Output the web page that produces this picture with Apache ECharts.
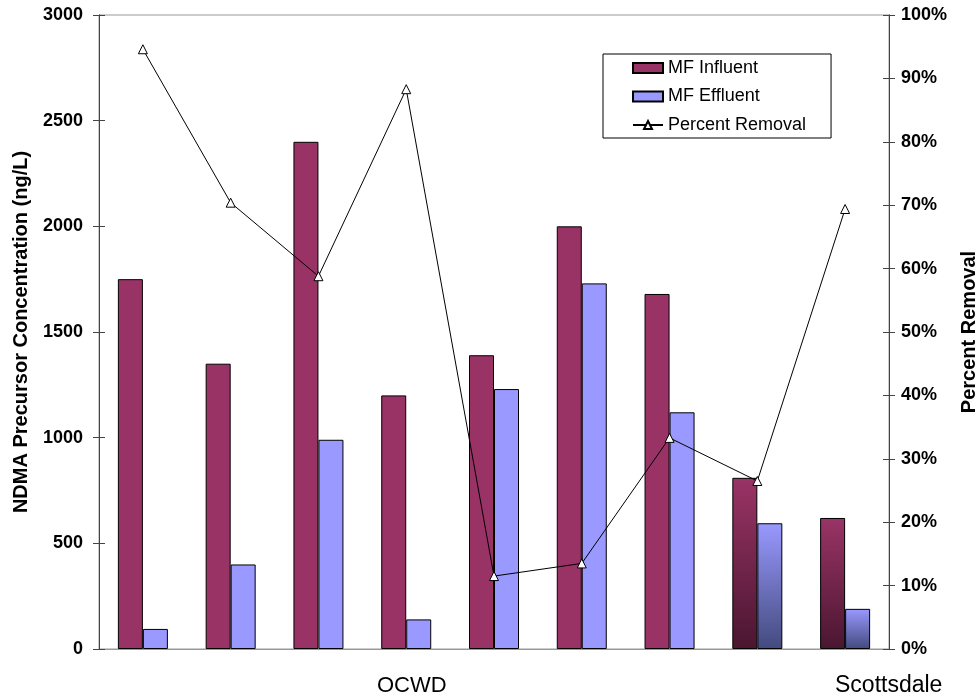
<!DOCTYPE html>
<html>
<head>
<meta charset="utf-8">
<script src="https://cdn.jsdelivr.net/npm/echarts@6/dist/echarts.min.js"></script>
<style>html,body{margin:0;padding:0;background:#fff}#c{width:980px;height:700px}</style>
</head>
<body>
<div id="c"></div>
<script>
var categories = ['1','2','3','4','5','6','7','8','9'];
var influent = [1750, 1350, 2400, 1200, 1390, 2000, 1680, 810, 620];
var effluent = [95, 400, 990, 140, 1230, 1730, 1120, 595, 190];
var percentRemoval = [94.6, 70.4, 58.8, 88.3, 11.5, 13.5, 33.3, 26.5, 69.4];
var gradientFrom = 7; // categories from this index use shaded bars
var groupLabels = ['OCWD', 'Scottsdale'];

var FONT = 'Liberation Sans, Arial, sans-serif';
function grad(top, bottom) {
  return new echarts.graphic.LinearGradient(0, 0, 0, 1, [
    {offset: 0, color: top}, {offset: 1, color: bottom}
  ]);
}
function barData(vals, flat, top, bottom) {
  return vals.map(function (v, i) {
    if (i >= gradientFrom) return {value: v, itemStyle: {color: grad(top, bottom)}};
    return {value: v, itemStyle: {color: flat}};
  });
}
var leftAxisBase = {
  type: 'value', min: 0, max: 3000, interval: 500, position: 'left',
  axisLine: {show: true, lineStyle: {color: '#444', width: 1}},
  splitLine: {show: false}
};
var rightAxisBase = {
  type: 'value', min: 0, max: 100, interval: 10, position: 'right',
  axisLine: {show: true, lineStyle: {color: '#444', width: 1}},
  splitLine: {show: false}
};
var chart = echarts.init(document.getElementById('c'));
chart.setOption({
  animation: false,
  backgroundColor: '#fff',
  grid: {left: 99, right: 91, top: 15, bottom: 51, containLabel: false, outerBoundsMode: 'none',
    show: true, borderColor: '#999', borderWidth: 1, backgroundColor: 'transparent'},
  legend: {
    orient: 'vertical', left: 603, top: 54,
    backgroundColor: '#fff', borderColor: '#000', borderWidth: 1,
    padding: [4, 25, 3, 29], itemGap: 8.5, itemWidth: 30, itemHeight: 10,
    textStyle: {fontFamily: FONT, fontSize: 18, color: '#000', lineHeight: 20, padding: [0, 0, 0, 0]},
    data: [
      {name: 'MF Influent', icon: 'rect'},
      {name: 'MF Effluent', icon: 'rect'},
      {name: 'Percent Removal'}
    ]
  },
  xAxis: {
    type: 'category', data: categories,
    axisLine: {show: true, lineStyle: {color: '#999'}},
    axisTick: {show: false}, axisLabel: {show: false}
  },
  yAxis: [
    Object.assign({}, leftAxisBase, {
      name: 'NDMA Precursor Concentration (ng/L)', nameLocation: 'middle', nameGap: 68,
      nameTextStyle: {fontFamily: FONT, fontSize: 20, fontWeight: 'bold', color: '#000'},
      axisTick: {show: true, length: 6, lineStyle: {color: '#444'}},
      axisLabel: {fontFamily: FONT, fontSize: 18, fontWeight: 'bold', color: '#000', margin: 16,
        formatter: function (v) { return String(v); }}
    }),
    Object.assign({}, rightAxisBase, {
      name: 'Percent Removal', nameLocation: 'middle', nameGap: 70,
      nameTextStyle: {fontFamily: FONT, fontSize: 20, fontWeight: 'bold', color: '#000'},
      axisTick: {show: true, length: 6, lineStyle: {color: '#444'}},
      axisLabel: {fontFamily: FONT, fontSize: 18, fontWeight: 'bold', color: '#000', margin: 12, formatter: '{value}%'}
    }),
    Object.assign({}, leftAxisBase, {
      axisTick: {show: true, inside: true, length: 6, lineStyle: {color: '#444'}},
      axisLabel: {show: false}
    }),
    Object.assign({}, rightAxisBase, {
      axisTick: {show: true, inside: true, length: 6, lineStyle: {color: '#444'}},
      axisLabel: {show: false}
    })
  ],
  series: [
    {
      name: 'MF Influent', type: 'bar', yAxisIndex: 0, barWidth: 25, barGap: '0%',
      itemStyle: {color: '#993366', borderColor: '#000', borderWidth: 1},
      data: barData(influent, '#993366', '#9a3466', '#4a1630')
    },
    {
      name: 'MF Effluent', type: 'bar', yAxisIndex: 0, barWidth: 25, barGap: '0%',
      itemStyle: {color: '#9999ff', borderColor: '#000', borderWidth: 1},
      data: barData(effluent, '#9999ff', '#9999ff', '#434a7d')
    },
    {
      name: 'Percent Removal', type: 'line', yAxisIndex: 1,
      symbol: 'triangle', symbolSize: 9,
      lineStyle: {color: '#000', width: 1},
      itemStyle: {color: '#fff', borderColor: '#000', borderWidth: 1},
      data: percentRemoval, z: 5
    }
  ],
  graphic: [
    {type: 'text', left: 377, top: 675, style: {text: groupLabels[0], fontFamily: FONT, fontSize: 22, fill: '#000'}},
    {type: 'text', left: 835, top: 674, style: {text: groupLabels[1], fontFamily: FONT, fontSize: 23, fill: '#000'}}
  ]
});
</script>
</body>
</html>
